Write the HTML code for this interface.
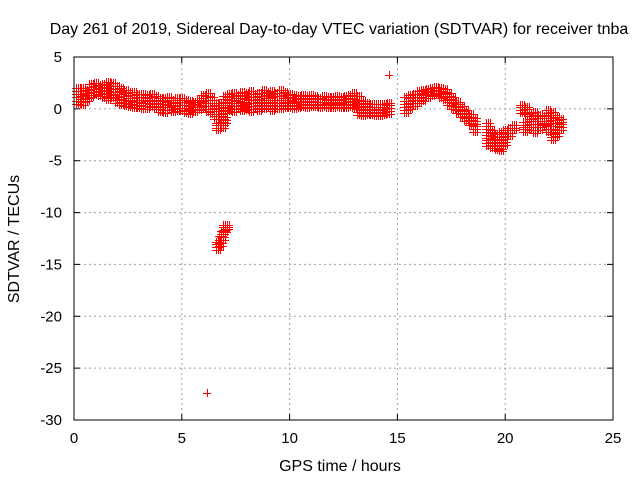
<!DOCTYPE html>
<html><head><meta charset="utf-8"><style>
html,body{margin:0;padding:0;background:#fff;}
svg{display:block;font-family:"Liberation Sans",sans-serif;}
</style></head><body>
<svg id="chart" width="640" height="480" viewBox="0 0 640 480">
<rect x="0" y="0" width="640" height="480" fill="#fff"/>
<text x="339" y="34" font-size="16" text-anchor="middle">Day 261 of 2019, Sidereal Day-to-day VTEC variation (SDTVAR) for receiver tnba</text>
<g id="grid"></g>
<g id="axes"></g>
<g id="marks"></g>
<rect x="74" y="57" width="539" height="363" fill="none" stroke="#000" stroke-width="1"/>
<text x="340" y="471" font-size="16" text-anchor="middle">GPS time / hours</text>
<text x="19" y="239" font-size="16" text-anchor="middle" transform="rotate(-90 19 239)">SDTVAR / TECUs</text>
</svg>
<script>
const xTicks=[0,5,10,15,20,25];
const yTicks=[5,0,-5,-10,-15,-20,-25,-30];
const times=[0.2,0.4,0.6,0.8,1.0,1.2,1.4,1.6,1.8,2.0,2.2,2.4,2.6,2.8,3.0,3.2,3.4,3.6,3.8,4.0,4.2,4.4,4.6,4.8,5.0,5.2,5.4,5.6,5.8,6.0,6.2,6.4,6.6,6.8,6.7,6.9,7.0,7.0,7.2,7.4,7.6,7.8,8.0,8.2,8.4,8.6,8.8,9.0,9.2,9.4,9.6,9.8,10.0,10.2,10.4,10.6,10.8,11.0,11.2,11.4,11.6,11.8,12.0,12.2,12.4,12.6,12.8,13.0,13.2,13.4,13.6,13.8,14.0,14.2,14.4,14.6,14.6,15.4,15.6,15.8,16.0,16.2,16.4,16.6,16.8,17.0,17.2,17.4,17.6,17.8,18.0,18.2,18.4,18.6,19.2,19.4,19.6,19.8,20.0,20.2,20.4,20.8,21.0,20.9,21.2,21.4,21.6,21.8,22.0,22.2,22.4,22.6,6.7,6.8,6.9,7.0,7.1,6.15];
const hiVals=[2.0,2.0,1.8,2.4,2.5,2.3,2.4,2.6,2.5,2.2,2.0,1.8,1.6,1.6,1.4,1.4,1.3,1.4,1.2,1.0,1.0,1.1,0.9,1.0,1.0,0.9,0.8,0.7,0.9,1.3,1.5,1.1,0.6,0.6,-1.4,-1.0,-0.8,1.2,1.4,1.5,1.3,1.6,1.5,1.7,1.4,1.5,1.8,1.6,1.7,1.5,1.8,1.6,1.4,1.3,1.2,1.3,1.2,1.3,1.2,1.0,1.2,1.1,1.1,1.2,1.1,1.2,1.3,1.5,1.2,0.8,0.6,0.5,0.5,0.5,0.5,0.6,3.3,1.1,1.3,1.4,1.7,1.8,1.9,2.0,2.1,2.0,1.9,1.5,1.1,0.7,0.3,-0.1,-0.5,-0.9,-1.4,-2.0,-2.4,-2.2,-2.0,-1.8,-1.6,0.4,0.2,-1.3,-0.4,-0.3,-0.6,-0.7,-0.1,-0.3,-0.8,-1.0,-12.8,-12.3,-11.8,-11.2,-11.2,-27.4];
const loVals=[0.5,0.4,0.8,1.1,1.3,1.2,1.0,0.9,1.0,0.6,0.4,0.3,0.2,0.1,0.1,0.0,0.0,0.2,0.0,-0.3,-0.4,-0.1,-0.3,-0.2,-0.2,-0.4,-0.5,-0.3,-0.1,0.0,-0.3,-0.5,-1.0,-1.0,-2.0,-1.8,-1.4,-0.4,-0.2,-0.3,0.0,-0.2,-0.1,-0.3,0.0,-0.2,0.0,0.1,-0.2,0.0,0.0,0.1,0.1,0.0,0.1,0.2,0.1,0.2,0.2,0.1,0.2,0.1,0.1,0.2,0.1,0.1,0.2,0.1,-0.6,-0.7,-0.6,-0.6,-0.7,-0.7,-0.6,-0.5,3.3,-0.4,0.0,0.3,0.6,0.8,1.0,1.2,1.3,1.0,0.9,0.4,0.0,-0.4,-0.8,-1.2,-1.6,-2.2,-3.6,-3.8,-4.0,-4.1,-3.5,-2.6,-2.0,-0.4,-0.5,-2.2,-2.0,-2.3,-2.0,-1.6,-2.2,-3.0,-2.6,-2.0,-13.6,-13.2,-12.6,-11.9,-11.6,-27.4];

const X0=74,X1=613,Y0=420,Y1=57;
function xs(h){return X0+(h-0)/(25-0)*(X1-X0);}
function ys(v){return Y0-(v-(-30))/(5-(-30))*(Y0-Y1);}
const NS="http://www.w3.org/2000/svg";
const grid=document.getElementById('grid'),axes=document.getElementById('axes'),marks=document.getElementById('marks');
function mk(tag,attrs,parent){const e=document.createElementNS(NS,tag);for(const k in attrs)e.setAttribute(k,attrs[k]);parent.appendChild(e);return e;}
xTicks.forEach(t=>{
  const x=xs(t);
  if(t>0&&t<25){const g=mk('line',{x1:x,y1:Y0,x2:x,y2:Y1,stroke:'#a0a0a0','stroke-dasharray':'2,3'},grid);
  
  }
  const tk=mk('path',{d:`M${x},${Y0}v-6M${x},${Y1}v6`,stroke:'#000'},axes);
  
  
  const l=mk('text',{x:x,y:443,'font-size':15,'text-anchor':'middle'},axes);l.textContent=t;
  
  
});
yTicks.forEach(t=>{
  const y=ys(t);
  if(t<5&&t>-30){const g=mk('line',{x1:X0,y1:y,x2:X1,y2:y,stroke:'#a0a0a0','stroke-dasharray':'2,3'},grid);
  
  }
  const tk=mk('path',{d:`M${X0},${y}h6M${X1},${y}h-6`,stroke:'#000'},axes);
  
  
  const l=mk('text',{x:62,y:y+5,'font-size':15,'text-anchor':'end'},axes);l.textContent=t;
  
  
});
function plus(x,y){return `M${x-4},${y}h8v1h-8zM${x},${y-4}h1v8h-1z`;}
let d='';
for(let i=0;i<times.length;i++){
  const x=Math.round(xs(times[i]));
  const lo=loVals[i],hi=hiVals[i];
  if(hi===lo){d+=plus(x,Math.round(ys(lo)));continue;}
  const n=Math.max(1,Math.ceil((hi-lo)/0.3));
  for(let k=0;k<=n;k++){
    const v=lo+(hi-lo)*k/n;
    const y=Math.round(ys(v));
    for(const dx of [-2,0,2]){d+=plus(x+dx,y);}
  }
}
const p=mk('path',{d:d,fill:'#ff0000',stroke:'none','fill-rule':'nonzero'},marks);


</script>
</body></html>
